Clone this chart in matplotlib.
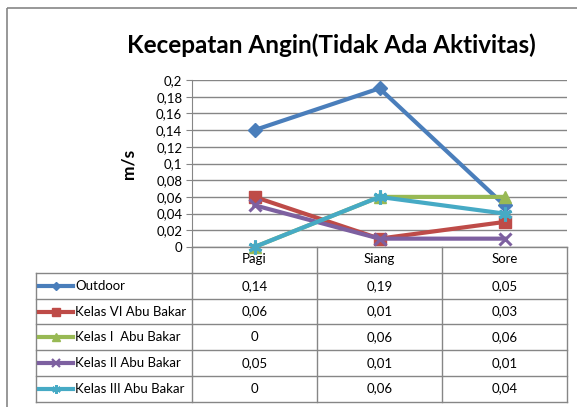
import matplotlib.pyplot as plt
from matplotlib.lines import Line2D

plt.rcParams['font.family'] = ['Lato', 'DejaVu Sans']

# data
categories = ['Pagi', 'Siang', 'Sore']
series_names = ['Outdoor', 'Kelas VI Abu Bakar', 'Kelas I  Abu Bakar',
                'Kelas II Abu Bakar', 'Kelas III Abu Bakar']
outdoor = [0.14, 0.19, 0.05]
kelas_vi = [0.06, 0.01, 0.03]
kelas_i = [0, 0.06, 0.06]
kelas_ii = [0.05, 0.01, 0.01]
kelas_iii = [0, 0.06, 0.04]
y_ticks = [0, 0.02, 0.04, 0.06, 0.08, 0.1, 0.12, 0.14, 0.16, 0.18, 0.2]

series = [outdoor, kelas_vi, kelas_i, kelas_ii, kelas_iii]
colors = ['#4A7EBB', '#BE4B48', '#98B954', '#7D60A0', '#46AAC5']
markers = ['D', 's', '^', 'x', (6, 2, 0)]
msizes = [7, 9, 9, 9, 10]


def fmt(v):
    return ('%g' % v).replace('.', ',')


W, H = 577, 407
fig = plt.figure(figsize=(W / 100, H / 100), dpi=100)

# pixel-coordinate overlay for frame, title and table
ov = fig.add_axes([0, 0, 1, 1], zorder=0)
ov.set_xlim(0, W)
ov.set_ylim(H, 0)
ov.axis('off')

# main plot area
px0, px1, py0, py1 = 192, 567, 80, 247
ax = fig.add_axes([px0 / W, 1 - py1 / H, (px1 - px0) / W, (py1 - py0) / H], zorder=1)
ax.patch.set_alpha(0)
x = range(len(categories))
for vals, c, m, ms in zip(series, colors, markers, msizes):
    ax.plot(x, vals, color=c, lw=3, marker=m, ms=ms, mew=2.2 if m in ('x',) or isinstance(m, tuple) else 1,
            mec=c, mfc=c, clip_on=False, zorder=3)
ax.set_xlim(-0.5, len(categories) - 0.5)
ax.set_ylim(0, 0.2)
ax.set_yticks(y_ticks)
ax.set_yticklabels([fmt(v) for v in y_ticks], fontsize=9.5)
ax.tick_params(axis='y', length=4, color='#868686', pad=3)
ax.set_xticks(list(x))
ax.set_xticklabels(categories, fontsize=9.5)
ax.tick_params(axis='x', length=0, pad=4)
ax.grid(axis='y', color='#868686', lw=1)
ax.set_axisbelow(True)
for s in ['top', 'right', 'bottom']:
    ax.spines[s].set_visible(False)
ax.spines['left'].set_color('#868686')
ax.set_ylabel('m/s', fontsize=12.5, fontweight='bold', labelpad=14)

# outer frame (runs off the right and bottom edges)
ov.add_patch(plt.Rectangle((7, 8), 620, 450, fill=False, ec='#868686', lw=1.2, clip_on=False))

# title
ov.text(331, 45, 'Kecepatan Angin(Tidak Ada Aktivitas)', ha='center', va='center',
        fontsize=17.5, fontweight='bold')

# data table
gc = '#868686'
col_x = [36, 192, 317, 442, 567]
row_y = [273 + i * 25.7 for i in range(6)]
# category header separators
for cx in col_x[1:]:
    ov.plot([cx, cx], [py1, row_y[0]], color=gc, lw=1)
ov.plot([px0, px1], [py1, py1], color=gc, lw=1)
for ry in row_y:
    ov.plot([col_x[0], col_x[-1]], [ry, ry], color=gc, lw=1)
for cx in col_x:
    ov.plot([cx, cx], [row_y[0], row_y[-1]], color=gc, lw=1)

for i, (name, vals, c, m, ms) in enumerate(zip(series_names, series, colors, markers, msizes)):
    cy = (row_y[i] + row_y[i + 1]) / 2
    ov.add_line(Line2D([39, 73], [cy, cy], color=c, lw=3))
    ov.plot([56], [cy], marker=m, ms=ms * 0.62, color=c, mec=c,
            mew=1.6 if m == 'x' or isinstance(m, tuple) else 1)
    ov.text(75, cy, name, ha='left', va='center', fontsize=9.5)
    for j, v in enumerate(vals):
        ov.text((col_x[j + 1] + col_x[j + 2]) / 2, cy, fmt(v), ha='center', va='center', fontsize=9.5)

fig.savefig('out.png', dpi=100)
